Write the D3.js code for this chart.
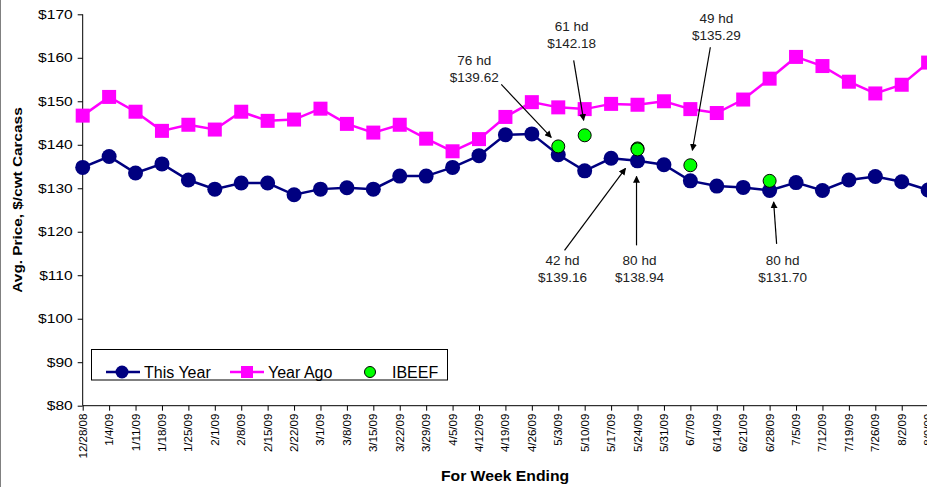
<!DOCTYPE html>
<html>
<head>
<meta charset="utf-8">
<script src="https://cdn.jsdelivr.net/npm/d3@7"></script>
<style>
  body { margin: 0; background: #fff; }
  text { font-family: "Liberation Sans", Arial, sans-serif; }
</style>
</head>
<body>
<div id="chart"></div>
<script>
// week ending labels
var weeks = ["12/28/08","1/4/09","1/11/09","1/18/09","1/25/09","2/1/09","2/8/09","2/15/09",
  "2/22/09","3/1/09","3/8/09","3/15/09","3/22/09","3/29/09","4/5/09","4/12/09","4/19/09",
  "4/26/09","5/3/09","5/10/09","5/17/09","5/24/09","5/31/09","6/7/09","6/14/09","6/21/09",
  "6/28/09","7/5/09","7/12/09","7/19/09","7/26/09","8/2/09","8/9/09"];

var thisYear = [134.8,137.3,133.5,135.6,131.9,129.8,131.2,131.2,128.5,129.8,130.1,129.8,
  132.8,132.8,134.8,137.5,142.3,142.5,137.7,134.0,136.9,136.3,135.4,131.7,130.5,130.2,
  129.5,131.3,129.5,131.9,132.7,131.5,129.6];

var yearAgo = [146.7,151.0,147.6,143.2,144.6,143.5,147.6,145.5,145.8,148.3,144.8,142.8,
  144.6,141.4,138.5,141.3,146.4,149.8,148.6,148.2,149.4,149.2,150.0,148.2,147.3,150.4,
  155.2,160.2,158.1,154.5,151.8,153.8,158.9];

// IBEEF sale results
var ibeefWeek = ["5/3/09","5/10/09","5/24/09","5/24/09","6/7/09","6/28/09"];
var ibeefPrice = [139.62,142.18,139.16,138.94,135.29,131.70];
var ibeefHead = [76,61,42,80,49,80];

var yTicks = [80,90,100,110,120,130,140,150,160,170];

// label / arrow offsets from each IBEEF point (px)
var annLayout = [
  {lx: -84, ly: -86, sx: -57, sy: -62, ex: -7, ey: -9},
  {lx: -13, ly: -109, sx: -11, sy: -75, ex: -1, ey: -15},
  {lx: -75, ly: 112, sx: -73, sy: 102, ex: -12, ey: 20},
  {lx: 2, ly: 111, sx: -1, sy: 96, ex: -1, ey: 27},
  {lx: 26, ly: -147, sx: 20, sy: -118, ex: 2, ey: -15},
  {lx: 13, ly: 79, sx: 7, sy: 63, ex: 4, ey: 21}
];

var W = 927, H = 487;
var x0 = 82.7, step = 26.42;
var font = "'Liberation Sans', Arial, sans-serif";

var svg = d3.select("#chart").append("svg")
    .attr("width", W)
    .attr("height", H);

var defs = svg.append("defs");
defs.append("marker")
    .attr("id", "arrow")
    .attr("viewBox", "0 0 10 10")
    .attr("refX", 9).attr("refY", 5)
    .attr("markerWidth", 7).attr("markerHeight", 7)
    .attr("markerUnits", "userSpaceOnUse")
    .attr("orient", "auto")
    .append("path")
    .attr("d", "M0,0 L10,5 L0,10 z")
    .attr("fill", "#000");

var x = d3.scalePoint()
    .domain(weeks)
    .range([x0, x0 + step * (weeks.length - 1)]);

var y = d3.scaleLinear()
    .domain([80, 170])
    .range([405.7, 14.3]);

// left border of the chart area
svg.append("line")
    .attr("x1", 0.5).attr("x2", 0.5)
    .attr("y1", 0).attr("y2", H)
    .attr("stroke", "#808080");

// y axis (excel text is wide, so stretch it)
var ySx = 1.3;
var yAxis = svg.append("g")
    .attr("transform", "translate(" + x0 + ",0)")
    .call(d3.axisLeft(y).tickValues(yTicks).tickSize(5)
      .tickFormat(function (d) { return "$" + d; }));
yAxis.selectAll("text")
    .attr("font-size", 12).attr("fill", "#000")
    .style("font-family", font)
    .attr("x", -10 / ySx)
    .attr("transform", "scale(" + ySx + ",1)");
yAxis.selectAll("line, path").attr("stroke", "#000");
yAxis.select(".domain").attr("d", "M0," + y(170) + "V" + y(80));

// x axis
var xSx = 1.15;
var xAxis = svg.append("g")
    .attr("transform", "translate(0," + y(80) + ")")
    .call(d3.axisBottom(x).tickSize(5).tickSizeOuter(0));
xAxis.selectAll("line, path").attr("stroke", "#000");
xAxis.select(".domain").attr("d", "M" + x0 + ",0H" + W);
xAxis.selectAll("text")
    .attr("font-size", 10)
    .attr("fill", "#000")
    .style("font-family", font)
    .attr("text-anchor", "end")
    .attr("transform", "rotate(-90) scale(" + xSx + ",1)")
    .attr("x", -8 / xSx)
    .attr("y", 0)
    .attr("dy", "0.35em");

// axis titles
svg.append("text")
    .attr("transform", "translate(505,481) scale(1.05,1)")
    .attr("text-anchor", "middle")
    .attr("font-size", 15).attr("font-weight", "bold")
    .text("For Week Ending");

svg.append("text")
    .attr("transform", "translate(21.5,200) rotate(-90) scale(1.28,1)")
    .attr("text-anchor", "middle")
    .attr("font-size", 12).attr("font-weight", "bold")
    .text("Avg. Price, $/cwt Carcass");

var line = d3.line()
    .x(function (d, i) { return x(weeks[i]); })
    .y(function (d) { return y(d); });

// year ago
svg.append("path")
    .datum(yearAgo)
    .attr("d", line)
    .attr("fill", "none")
    .attr("stroke", "#ff00ff")
    .attr("stroke-width", 2.5);

svg.selectAll(".sq")
    .data(yearAgo)
    .enter().append("rect")
    .attr("class", "sq")
    .attr("x", function (d, i) { return x(weeks[i]) - 7; })
    .attr("y", function (d) { return y(d) - 7; })
    .attr("width", 14).attr("height", 14)
    .attr("fill", "#ff00ff");

// this year
svg.append("path")
    .datum(thisYear)
    .attr("d", line)
    .attr("fill", "none")
    .attr("stroke", "#000080")
    .attr("stroke-width", 2.5);

svg.selectAll(".dot")
    .data(thisYear)
    .enter().append("circle")
    .attr("class", "dot")
    .attr("cx", function (d, i) { return x(weeks[i]); })
    .attr("cy", function (d) { return y(d); })
    .attr("r", 7.5)
    .attr("fill", "#000080");

// IBEEF
svg.selectAll(".ib")
    .data(ibeefPrice)
    .enter().append("circle")
    .attr("class", "ib")
    .attr("cx", function (d, i) { return x(ibeefWeek[i]); })
    .attr("cy", function (d) { return y(d); })
    .attr("r", 6.5)
    .attr("fill", "#00ff00")
    .attr("stroke", "#000")
    .attr("stroke-width", 1);

// annotations
ibeefPrice.forEach(function (p, i) {
    var px = x(ibeefWeek[i]), py = y(p), a = annLayout[i];
    svg.append("line")
        .attr("x1", px + a.sx).attr("y1", py + a.sy)
        .attr("x2", px + a.ex).attr("y2", py + a.ey)
        .attr("stroke", "#000").attr("stroke-width", 1.2)
        .attr("marker-end", "url(#arrow)");
    var t = svg.append("text")
        .attr("text-anchor", "middle")
        .attr("font-size", 13.5)
        .attr("fill", "#222");
    t.append("tspan").attr("x", px + a.lx).attr("y", py + a.ly + 5)
        .text(ibeefHead[i] + " hd");
    t.append("tspan").attr("x", px + a.lx).attr("y", py + a.ly + 22)
        .text("$" + p.toFixed(2));
});

// legend
var lg = svg.append("g");
lg.append("rect")
    .attr("x", 91.5).attr("y", 349.5)
    .attr("width", 356).attr("height", 30.5)
    .attr("fill", "#fff")
    .attr("stroke", "#000").attr("stroke-width", 1);

var ly = 372;
lg.append("line").attr("x1", 106).attr("x2", 140).attr("y1", ly).attr("y2", ly)
    .attr("stroke", "#000080").attr("stroke-width", 2.5);
lg.append("circle").attr("cx", 122).attr("cy", ly).attr("r", 6.5).attr("fill", "#000080");
lg.append("text").attr("x", 144).attr("y", ly + 6).attr("font-size", 16).text("This Year");

lg.append("line").attr("x1", 230).attr("x2", 264).attr("y1", ly).attr("y2", ly)
    .attr("stroke", "#ff00ff").attr("stroke-width", 2.5);
lg.append("rect").attr("x", 241).attr("y", ly - 6).attr("width", 12).attr("height", 12)
    .attr("fill", "#ff00ff");
lg.append("text").attr("x", 268).attr("y", ly + 6).attr("font-size", 16).text("Year Ago");

lg.append("circle").attr("cx", 370).attr("cy", ly).attr("r", 5.5)
    .attr("fill", "#00ff00").attr("stroke", "#000");
lg.append("text").attr("x", 392).attr("y", ly + 6).attr("font-size", 16).text("IBEEF");
</script>
</body>
</html>
